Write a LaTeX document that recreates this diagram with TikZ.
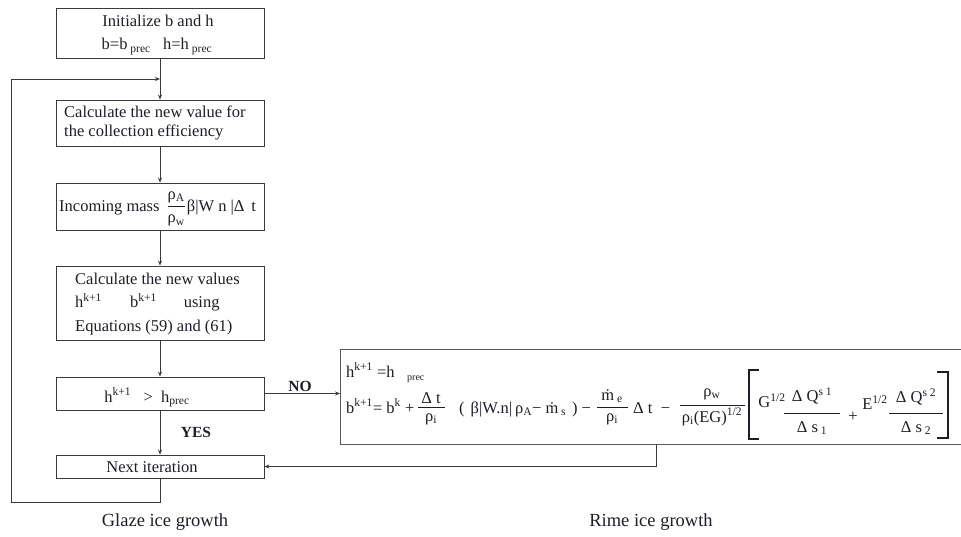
\documentclass[tikz,border=0pt]{standalone}
\usepackage{amsmath}
\usepackage{fontspec}
\setmainfont{Liberation Serif}
\usetikzlibrary{arrows.meta,calc}
\definecolor{linec}{HTML}{3A3A3A}
\definecolor{txtc}{HTML}{1E1E2A}
\newcommand{\up}[1]{\textsuperscript{#1}}
\newcommand{\dn}[1]{\textsubscript{#1}}
\newcommand{\fr}[2]{$\dfrac{\text{#1}}{\text{#2}}$}
\tikzset{
  box/.style={draw=linec, line width=0.8pt, minimum width=208pt, inner sep=0pt, text=txtc},
  txt/.style={inner sep=0pt, text=txtc, font=\fontsize{16.5}{19}\selectfont},
  lab/.style={inner sep=0pt, text=txtc, font=\fontsize{18.5}{22}\selectfont},
  arr/.style={draw=linec, line width=0.8pt, -{Stealth[length=5pt,width=4pt]}},
  fbar/.style={draw=txtc, line width=0.9pt},
  brk/.style={draw=txtc, line width=1.3pt},
}
\begin{document}
\begin{tikzpicture}[x=1pt,y=-1pt]
\clip (0,0) rectangle (961,537);
\fill[white] (0,0) rectangle (961,537);
% glaze boxes
\node[box, minimum height=50pt] (b1) at (160,33) {};
\node[box, minimum height=46pt] (b2) at (160,123) {};
\node[box, minimum height=47pt] (b3) at (160,206.5) {};
\node[box, minimum height=74pt] (b4) at (160,303) {};
\node[box, minimum height=33pt] (b5) at (160,393.5) {};
\node[box, minimum height=23pt] (b6) at (160,466.5) {};
% texts
\node[txt, anchor=base] (t1a) at (158,27) {Initialize b and h};
\node[txt, anchor=base] (t1b) at (157,50) {b=b\dn{ prec} \ \ h=h\dn{ prec}};
\node[txt, anchor=west, align=left] (t2) at (64,123) {Calculate the new value for\\the collection efficiency};
\node[txt, anchor=west] (t3) at (59,209) {Incoming mass \,\fr{ρ\dn{A}}{ρ\dn{w}}\hspace{1pt}β|W n |Δ \,t};
\node[txt, anchor=base west] (t4a) at (75,285) {Calculate the new values};
\node[txt, anchor=base west] (t4b) at (75,308) {h\up{k+1}\hspace{28pt}b\up{k+1}\hspace{27pt}using};
\node[txt, anchor=base west] (t4c) at (75,331) {Equations (59) and (61)};
\node[txt, anchor=base] (t5) at (147,402) {h\up{k+1} \ \ > \ h\dn{prec}};
\node[txt, anchor=base] (t6) at (152,472) {Next iteration};
% rime box
\node[draw=linec!85, line width=1.3pt, minimum width=640pt, minimum height=95pt, anchor=north west, inner sep=0pt] (rime) at (340,349) {};
\node[txt, anchor=base west] (r1) at (346,377) {h\up{k+1} =h};
\node[txt, anchor=base west, font=\fontsize{10}{12}\selectfont] (r1s) at (407,380) {prec};
\node[txt, anchor=base west] (r2) at (346,413) {b\up{k+1}= b\up{k} +};
\draw[fbar] (418,407) -- (445,407);
\node[txt] (f1n) at (431,398) {Δ t};
\node[txt] (f1d) at (431,419) {ρ\dn{i}};
\node[txt, anchor=base west] (r3) at (459,413) {(\hspace{6pt}β|W.n|\hspace{3pt}ρ\dn{A}−\hspace{4pt}\.m\dn{ s}\hspace{6pt})\hspace{4pt}−};
\draw[fbar] (597,407) -- (628,407);
\node[txt] (f2n) at (612,396) {\.m\dn{ e}};
\node[txt] (f2d) at (612,419) {ρ\dn{i}};
\node[txt, anchor=base west] (r4) at (633,413) {Δ t \ −};
\draw[fbar] (680,405) -- (745,405);
\node[txt] (f3n) at (712,394) {ρ\dn{w}};
\node[txt] (f3d) at (712,417) {ρ\dn{i}(EG)\up{1/2}};
\draw[brk] (759,370) -- (749,370) -- (749,439) -- (759,439);
\node[txt] (g12) at (772,401) {G\up{1/2}};
\draw[fbar] (784,413) -- (840,413);
\node[txt] (f4n) at (812,396) {Δ Q\up{s 1}};
\node[txt] (f4d) at (812,428) {Δ s\dn{ 1}};
\node[txt] (plus) at (853,417) {+};
\node[txt] (e12) at (875,403) {E\up{1/2}};
\draw[fbar] (889,413) -- (943,413);
\node[txt] (f5n) at (916,397) {Δ Q\up{s 2}};
\node[txt] (f5d) at (916,428) {Δ s\dn{ 2}};
\draw[brk] (937,372) -- (948,372) -- (948,438) -- (937,438);
% connectors
\coordinate (lb) at (11,502);
\coordinate (m12) at ($(b1.south)!0.5!(b2.north)$);
\draw[arr] (b1.south) -- (b2.north);
\draw[arr] (b2.south) -- (b3.north);
\draw[arr] (b3.south) -- (b4.north);
\draw[arr] (b4.south) -- (b5.north);
\draw[arr] (b5.south) -- (b6.north);
\draw[arr] (b6.south) |- (lb) |- (m12);
\draw[arr] (b5.east) -- (b5.east -| rime.west);
\coordinate (rb) at ($(rime.south west)+(316,0)$);
\draw[arr] (rb) |- (b6.east);
% labels
\node[txt, font=\bfseries\fontsize{15.5}{19}\selectfont] (no) at (300,386) {NO};
\node[txt, font=\bfseries\fontsize{15.5}{19}\selectfont] (yes) at (196,432) {YES};
\node[lab] (g) at (165,522) {Glaze ice growth};
\node[lab] (r) at (651,522) {Rime ice growth};
\end{tikzpicture}
\end{document}
